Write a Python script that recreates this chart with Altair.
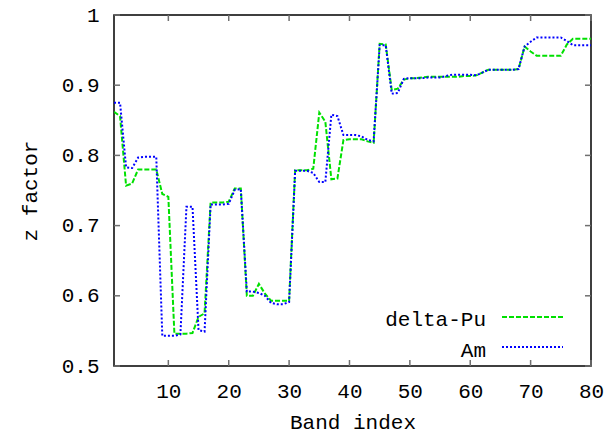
import altair as alt
import pandas as pd

# Band-resolved z factors for the two systems
band = list(range(1, 81))
delta_pu = [
    0.862, 0.856, 0.757, 0.760, 0.780, 0.780, 0.780, 0.780, 0.745, 0.741,
    0.546, 0.546, 0.546, 0.547, 0.570, 0.575, 0.733, 0.733, 0.733, 0.734,
    0.753, 0.753, 0.600, 0.600, 0.617, 0.603, 0.593, 0.593, 0.593, 0.593,
    0.779, 0.779, 0.779, 0.781, 0.861, 0.848, 0.766, 0.767, 0.822, 0.823,
    0.823, 0.823, 0.820, 0.818, 0.959, 0.958, 0.893, 0.895, 0.908, 0.910,
    0.910, 0.911, 0.912, 0.912, 0.912, 0.912, 0.912, 0.912, 0.913, 0.913,
    0.914, 0.918, 0.922, 0.922, 0.922, 0.922, 0.922, 0.923, 0.955, 0.948,
    0.942, 0.942, 0.942, 0.942, 0.942, 0.958, 0.966, 0.966, 0.966, 0.966,
]
am = [
    0.875, 0.875, 0.783, 0.782, 0.797, 0.798, 0.798, 0.798, 0.543, 0.543,
    0.543, 0.545, 0.727, 0.727, 0.551, 0.549, 0.730, 0.730, 0.730, 0.731,
    0.751, 0.752, 0.606, 0.606, 0.604, 0.600, 0.590, 0.588, 0.588, 0.591,
    0.778, 0.778, 0.778, 0.775, 0.762, 0.762, 0.858, 0.856, 0.829, 0.829,
    0.829, 0.827, 0.822, 0.820, 0.957, 0.957, 0.888, 0.889, 0.909, 0.910,
    0.910, 0.910, 0.911, 0.911, 0.911, 0.913, 0.915, 0.915, 0.915, 0.915,
    0.914, 0.918, 0.922, 0.922, 0.922, 0.922, 0.922, 0.923, 0.955, 0.962,
    0.968, 0.968, 0.968, 0.968, 0.968, 0.963, 0.957, 0.957, 0.957, 0.957,
]
series_names = ["delta-Pu", "Am"]
x_ticks = [10, 20, 30, 40, 50, 60, 70, 80]
y_ticks = [0.5, 0.6, 0.7, 0.8, 0.9, 1.0]

W, H = 477, 351
FONT = "Liberation Mono"
FS = 21
GREEN = "#00e000"
BLUE = "#0000ff"
TICK = 6

df = pd.DataFrame({
    "band": band * 2,
    "z": delta_pu + am,
    "series": [series_names[0]] * len(band) + [series_names[1]] * len(band),
})

x_scale = alt.Scale(domain=[1, 80], nice=False, zero=False)
y_scale = alt.Scale(domain=[0.5, 1.0], nice=False, zero=False)

x_axis = alt.Axis(
    title="Band index", values=x_ticks, format="d", ticks=False, domain=False,
    grid=False, labelFont=FONT, labelFontSize=FS, labelColor="black",
    labelPadding=14, labelFlush=False, labelOverlap=False,
    titleFont=FONT, titleFontSize=FS, titleFontWeight="normal",
    titleColor="black", titleY=56, titleBaseline="middle",
)
y_axis = alt.Axis(
    title="z factor", values=y_ticks, ticks=False, domain=False, grid=False,
    labelExpr="datum.value == 1 ? '1' : format(datum.value, '.1f')",
    labelFont=FONT, labelFontSize=FS, labelColor="black", labelPadding=15,
    labelFlush=False, labelOverlap=False,
    titleFont=FONT, titleFontSize=FS, titleFontWeight="normal",
    titleColor="black", titleX=-84, titleY=H / 2, titleAngle=-90,
    titleAlign="center", titleBaseline="middle",
)

base = alt.Chart(df)


def curve(name, color, dash):
    return base.transform_filter(alt.datum.series == name).mark_line(
        color=color, strokeDash=dash, strokeWidth=2, clip=True
    ).encode(
        x=alt.X("band:Q", scale=x_scale, axis=x_axis),
        y=alt.Y("z:Q", scale=y_scale, axis=y_axis),
    )


green_line = curve(series_names[0], GREEN, [5, 2])
blue_line = curve(series_names[1], BLUE, [2, 2])

# Inward tick marks on all four sides
xt = pd.DataFrame({"t": x_ticks})
yt = pd.DataFrame({"t": y_ticks})
tick_style = dict(color="#707070", strokeWidth=1.5)
x_ticks_bottom = alt.Chart(xt).mark_rule(**tick_style).encode(
    x=alt.X("t:Q", scale=x_scale), y=alt.value(H), y2=alt.value(H - TICK))
x_ticks_top = alt.Chart(xt).mark_rule(**tick_style).encode(
    x=alt.X("t:Q", scale=x_scale), y=alt.value(0), y2=alt.value(TICK))
y_ticks_left = alt.Chart(yt).mark_rule(**tick_style).encode(
    y=alt.Y("t:Q", scale=y_scale), x=alt.value(0), x2=alt.value(TICK))
y_ticks_right = alt.Chart(yt).mark_rule(**tick_style).encode(
    y=alt.Y("t:Q", scale=y_scale), x=alt.value(W), x2=alt.value(W - TICK))

# Key in the lower right corner: label then line sample
one = pd.DataFrame({"k": [0]})


def key_text(label, ypix):
    return alt.Chart(one).mark_text(
        align="right", baseline="middle", font=FONT, fontSize=FS, color="black"
    ).encode(x=alt.value(372), y=alt.value(ypix), text=alt.value(label))


def key_line(color, dash, ypix):
    return alt.Chart(one).mark_rule(
        color=color, strokeDash=dash, strokeWidth=2
    ).encode(x=alt.value(388), x2=alt.value(449), y=alt.value(ypix))


chart = alt.layer(
    green_line, blue_line,
    x_ticks_bottom, x_ticks_top, y_ticks_left, y_ticks_right,
    key_text(series_names[0], 305), key_line(GREEN, [5, 2], 302),
    key_text(series_names[1], 336), key_line(BLUE, [2, 2], 332),
).properties(
    width=W, height=H,
    autosize=alt.AutoSizeParams(type="none"),
    padding={"left": 114, "top": 15, "right": 19, "bottom": 69},
    background="white",
).configure_view(stroke="black", strokeWidth=1.5)

chart.save("out.html", embed_options={"renderer": "svg", "actions": False})
